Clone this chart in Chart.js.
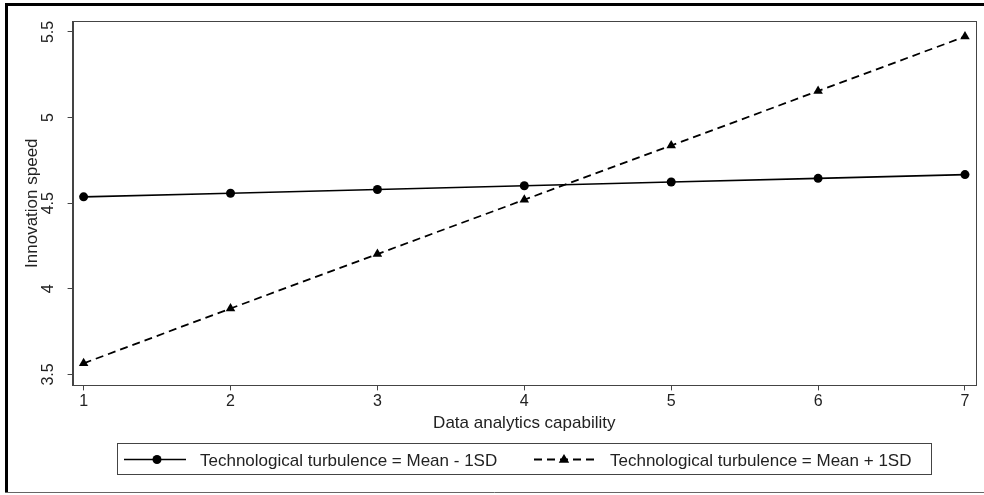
<!DOCTYPE html>
<html>
<head>
<meta charset="utf-8">
<script src="https://cdn.jsdelivr.net/npm/chart.js@4/dist/chart.umd.min.js"></script>
<style>
  html, body { margin: 0; padding: 0; background: #fff; }
  canvas { display: block; }
</style>
</head>
<body>
<canvas id="c" width="984" height="495"></canvas>
<script>
// ---- data ----
const xValues = [1, 2, 3, 4, 5, 6, 7];
const lowTurbulence = [4.537, 4.558, 4.580, 4.602, 4.624, 4.645, 4.667];
const highTurbulence = [3.565, 3.885, 4.203, 4.520, 4.837, 5.155, 5.473];
const yTicks = [3.5, 4, 4.5, 5, 5.5];
const xTicks = [1, 2, 3, 4, 5, 6, 7];
const seriesNames = ['Technological turbulence = Mean - 1SD', 'Technological turbulence = Mean + 1SD'];
const xTitle = 'Data analytics capability';
const yTitle = 'Innovation speed';

const FONT = "'Liberation Sans', Arial, sans-serif";
const toPts = (ys) => xValues.map((x, i) => ({ x: x, y: ys[i] }));

function drawMarker(ctx, style, r, x, y) {
  ctx.beginPath();
  if (style === 'triangle') {
    ctx.moveTo(x, y - r);
    ctx.lineTo(x + r * 0.95, y + r * 0.6);
    ctx.lineTo(x - r * 0.95, y + r * 0.6);
    ctx.closePath();
  } else {
    ctx.arc(x, y, r, 0, Math.PI * 2);
  }
  ctx.fill();
}

const framePlugin = {
  id: 'frame',
  beforeDraw(chart) {
    const ctx = chart.ctx;
    ctx.save();
    ctx.fillStyle = '#fff';
    ctx.fillRect(0, 0, chart.width, chart.height);
    // outer frame
    ctx.strokeStyle = '#000';
    ctx.lineWidth = 3;
    ctx.beginPath();
    ctx.moveTo(6.5, 493);
    ctx.lineTo(6.5, 4.5);
    ctx.lineTo(984, 4.5);
    ctx.stroke();
    ctx.strokeStyle = '#666';
    ctx.lineWidth = 1;
    ctx.beginPath();
    ctx.moveTo(5, 492.5);
    ctx.lineTo(984, 492.5);
    ctx.stroke();
    ctx.restore();
  },
  afterDatasetsDraw(chart) {
    const ctx = chart.ctx;
    const a = chart.chartArea;
    ctx.save();
    ctx.strokeStyle = '#444';
    ctx.lineWidth = 1;
    ctx.strokeRect(Math.round(a.left) + 0.5, Math.round(a.top) + 0.5,
      Math.round(a.right - a.left), Math.round(a.bottom - a.top));
    ctx.restore();
  },
  afterDraw(chart) {
    // legend (Stata style, boxed)
    const ctx = chart.ctx;
    const ds = chart.data.datasets;
    ctx.save();
    ctx.strokeStyle = '#444';
    ctx.lineWidth = 1;
    ctx.strokeRect(117.5, 443.5, 814, 31);
    const items = [
      { x0: 124, x1: 186, mx: 157, tx: 200 },
      { x0: 534, x1: 599, mx: 564, tx: 610 }
    ];
    const ly = 459.5;
    items.forEach((it, i) => {
      const d = ds[i];
      ctx.strokeStyle = d.borderColor;
      ctx.lineWidth = d.borderWidth;
      ctx.setLineDash(d.borderDash || []);
      ctx.beginPath();
      ctx.moveTo(it.x0, ly);
      ctx.lineTo(it.x1, ly);
      ctx.stroke();
      ctx.setLineDash([]);
      ctx.fillStyle = d.pointBackgroundColor;
      drawMarker(ctx, d.pointStyle, d.pointRadius, it.mx, ly);
      ctx.fillStyle = '#222';
      ctx.font = "17px " + FONT;
      ctx.textAlign = 'left';
      ctx.textBaseline = 'alphabetic';
      ctx.fillText(d.label, it.tx, 466);
    });
    ctx.restore();
  }
};

new Chart(document.getElementById('c'), {
  type: 'scatter',
  data: {
    datasets: [
      {
        label: seriesNames[0],
        data: toPts(lowTurbulence),
        showLine: true,
        borderColor: '#000',
        backgroundColor: '#000',
        borderWidth: 1.6,
        pointStyle: 'circle',
        pointRadius: 4.5,
        pointBorderWidth: 0,
        pointBackgroundColor: '#000'
      },
      {
        label: seriesNames[1],
        data: toPts(highTurbulence),
        showLine: true,
        borderColor: '#000',
        backgroundColor: '#000',
        borderWidth: 1.8,
        borderDash: [8, 5],
        pointStyle: 'triangle',
        pointRadius: 5.5,
        pointBorderWidth: 0,
        pointBackgroundColor: '#000'
      }
    ]
  },
  options: {
    responsive: false,
    animation: false,
    devicePixelRatio: 1,
    layout: { padding: { left: 22, right: 8, top: 21, bottom: 61 } },
    scales: {
      x: {
        type: 'linear',
        min: 0.925,
        max: 7.075,
        afterBuildTicks: (s) => { s.ticks = xTicks.map(v => ({ value: v })); },
        ticks: {
          font: { family: FONT, size: 16 },
          color: '#222',
          padding: 2,
          maxRotation: 0,
          callback: (v) => String(v)
        },
        grid: { display: true, drawOnChartArea: false, drawTicks: true, tickLength: 5, tickColor: '#444' },
        border: { display: true, color: '#444' },
        title: {
          display: true,
          text: xTitle,
          font: { family: FONT, size: 17 },
          color: '#222',
          padding: { top: 0, bottom: 0 }
        }
      },
      y: {
        type: 'linear',
        min: 3.436,
        max: 5.564,
        afterBuildTicks: (s) => { s.ticks = yTicks.map(v => ({ value: v })); },
        ticks: {
          font: { family: FONT, size: 16 },
          color: '#222',
          padding: 8,
          minRotation: 90,
          maxRotation: 90,
          crossAlign: 'center',
          callback: (v) => String(v)
        },
        grid: { display: true, drawOnChartArea: false, drawTicks: true, tickLength: 5, tickColor: '#444' },
        border: { display: true, color: '#444' },
        title: {
          display: true,
          text: yTitle,
          font: { family: FONT, size: 17 },
          color: '#222',
          padding: { top: 0, bottom: -10 }
        }
      }
    },
    plugins: {
      tooltip: { enabled: false },
      legend: { display: false }
    }
  },
  plugins: [framePlugin]
});
</script>
</body>
</html>
